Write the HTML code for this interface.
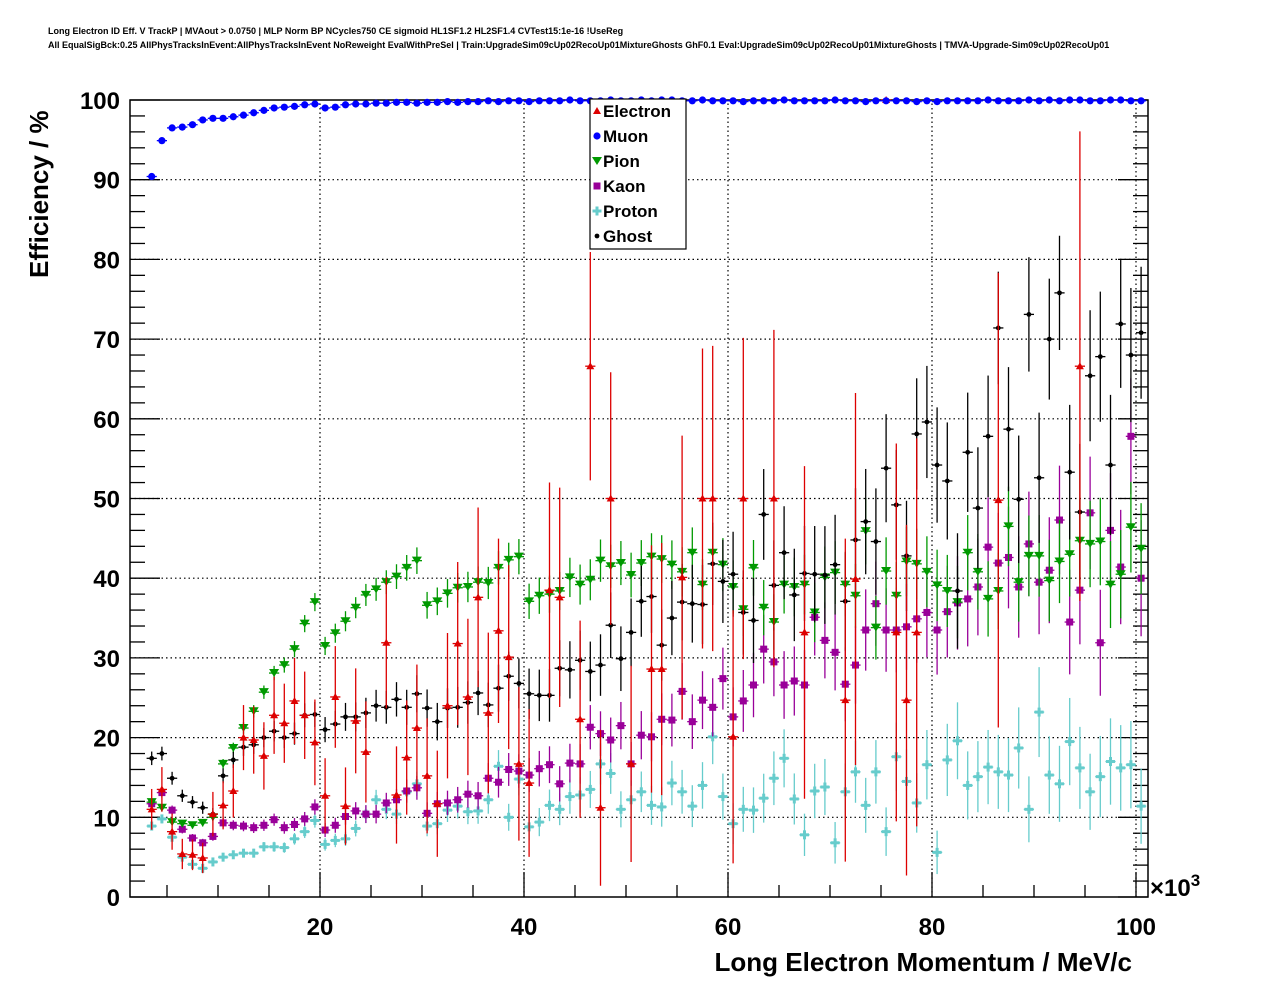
<!DOCTYPE html>
<html><head><meta charset="utf-8">
<style>
html,body{margin:0;padding:0;background:#fff;}
svg{display:block;font-family:"Liberation Sans",Arial,sans-serif;}
</style></head>
<body>
<svg id="chart" width="1276" height="996" viewBox="0 0 1276 996" xmlns="http://www.w3.org/2000/svg">
<rect width="1276" height="996" fill="#fff"/>
<text x="48" y="34" font-size="9" font-weight="bold">Long Electron ID Eff. V TrackP | MVAout &gt; 0.0750 | MLP Norm BP NCycles750 CE sigmoid HL1SF1.2 HL2SF1.4 CVTest15:1e-16 !UseReg</text>
<text x="48" y="48" font-size="9" font-weight="bold">All EqualSigBck:0.25 AllPhysTracksInEvent:AllPhysTracksInEvent NoReweight EvalWithPreSel | Train:UpgradeSim09cUp02RecoUp01MixtureGhosts GhF0.1 Eval:UpgradeSim09cUp02RecoUp01MixtureGhosts | TMVA-Upgrade-Sim09cUp02RecoUp01</text>
<g id="grid"></g>
<g id="axes"></g>
<g id="marks"></g>
<text x="1132" y="971" font-size="26" font-weight="bold" text-anchor="end">Long Electron Momentum / MeV/c</text>
<text transform="translate(48,278) rotate(-90)" font-size="26" font-weight="bold">Efficiency / %</text>
<text x="1150" y="896" font-size="24" font-weight="bold">×10<tspan dy="-10" font-size="17">3</tspan></text>
<g id="legend"></g>
</svg>
<script>
const xTicks = [20, 40, 60, 80, 100];
const yTicks = [0, 10, 20, 30, 40, 50, 60, 70, 80, 90, 100];
const binCenters = [];
for (let i = 0; i < 98; i++) binCenters.push(3.5 + i);
const muon = [90.4,94.9,96.5,96.6,96.9,97.5,97.7,97.7,97.9,98.1,98.4,98.7,99.0,99.1,99.2,99.4,99.5,99.0,99.1,99.4,99.5,99.5,99.6,99.6,99.7,99.7,
99.6,99.7,99.7,99.8,99.7,99.8,99.8,99.9,99.8,99.9,99.9,99.8,99.9,99.9,99.9,100,99.9,99.9,99.9,100,99.9,99.9,100,99.9,100,100,99.9,99.9,100,99.9,
99.9,99.9,99.8,99.9,99.9,99.9,100,99.9,99.9,99.9,99.9,100,99.9,99.9,99.8,99.9,99.9,99.9,99.9,99.8,99.9,99.8,99.9,99.9,99.9,99.9,100,99.9,99.9,99.9,
100,99.9,100,99.9,100,100,99.9,99.9,100,100,99.9,99.9];
const electron = [11.0,13.5,8.2,5.4,5.3,4.9,10.4,11.5,13.3,20.0,19.7,17.7,22.8,21.8,24.6,22.8,19.4,12.7,25.1,11.4,22.1,18.2,null,31.9,12.8,17.5,21.2,15.2,11.7,24.0,31.8,25.1,
37.6,23.1,33.4,30.1,16.7,14.3,null,38.5,37.6,null,22.3,66.6,11.2,50.0,null,16.7,null,28.6,28.6,null,40.1,null,50.0,50.0,null,20.1,50.0,null,null,50.0,null,null,
33.2,null,null,null,24.7,39.9,null,null,100,33.2,24.7,33.2,null,null,null,null,null,null,null,49.8,null,null,null,null,null,null,null,66.6,null,null,null,null,null,null];
const pion = [11.9,11.2,9.4,9.2,9.0,9.3,10.0,16.7,18.7,21.2,23.3,25.7,28.1,29.1,31.1,34.3,37.0,31.5,33.1,34.6,36.3,37.9,38.6,39.5,40.2,41.3,42.2,36.6,37.1,38.1,38.8,38.9,
39.5,39.4,41.3,42.3,42.7,37.1,37.8,38.0,38.4,40.1,39.2,39.8,42.2,41.5,41.9,40.4,41.9,42.7,42.4,41.7,40.8,43.2,39.2,43.2,41.7,38.9,36.1,41.3,36.3,34.5,39.2,38.9,
39.2,35.7,40.1,40.7,39.2,37.8,45.9,33.8,40.9,37.8,42.1,41.8,40.8,39.1,38.4,37.0,43.2,40.8,37.4,38.4,46.5,39.5,42.8,42.8,39.7,42.1,43.0,44.7,44.3,44.6,39.2,40.5,46.4,43.7];
const kaon = [11.7,13.1,10.9,8.5,7.4,6.8,7.6,9.3,9.0,8.9,8.7,9.0,9.7,8.7,9.1,9.8,11.3,8.4,9.0,10.1,10.8,10.4,10.4,11.8,12.2,13.3,13.7,10.5,11.7,11.8,12.2,12.9,
12.7,14.9,14.4,16.0,15.8,15.3,16.1,16.6,14.2,16.8,16.7,21.3,20.5,19.7,21.5,16.7,20.3,20.1,22.3,22.2,25.8,22.0,24.7,23.8,27.4,22.6,24.6,26.6,31.1,29.5,26.6,27.1,
26.6,35.1,32.2,30.7,26.7,29.1,33.5,36.8,33.5,33.5,33.9,34.9,35.7,33.5,35.8,36.9,37.4,38.9,43.9,41.9,42.6,38.9,44.3,39.5,41.0,47.3,34.5,38.5,48.2,31.9,46.0,41.4,57.8,40.0];
const proton = [8.9,9.8,7.5,5.0,4.1,3.6,4.4,5.0,5.3,5.5,5.5,6.3,6.3,6.2,7.3,8.2,9.6,6.6,7.1,7.3,8.6,10.4,12.2,11.0,10.4,13.2,14.2,8.9,9.2,10.9,11.4,10.7,
10.8,12.2,16.4,10.0,14.8,8.8,9.4,11.5,11.0,12.6,12.8,13.5,16.7,15.5,11.0,12.2,13.2,11.5,11.3,14.3,13.2,11.4,14.0,20.1,12.6,9.2,11.0,10.9,12.4,14.9,17.4,12.3,
7.8,13.3,13.8,6.8,13.2,15.7,11.5,15.7,8.2,17.6,14.5,11.8,16.6,5.6,17.2,19.6,14.0,15.1,16.3,15.7,15.3,18.7,11.0,23.2,15.3,14.2,19.5,16.2,13.2,15.1,17.0,16.2,16.6,11.4];
const ghost = [17.4,18.0,14.9,12.7,11.9,11.2,10.4,15.2,17.2,18.8,19.1,20.0,20.8,20.0,20.5,22.8,22.9,21.0,21.7,22.6,22.6,23.1,24.0,23.8,24.8,23.8,25.5,23.7,22.0,23.7,23.8,24.4,
25.6,24.1,26.2,27.7,26.8,25.5,25.3,25.3,28.7,28.5,29.7,28.3,29.1,34.1,29.9,33.2,37.1,37.7,31.6,35.0,37.0,36.8,36.7,41.8,39.6,40.5,35.7,34.7,48.0,39.1,43.2,37.9,
40.6,40.5,40.4,41.7,37.1,44.8,47.1,44.6,53.8,49.2,42.8,58.1,59.6,54.2,52.2,38.4,55.8,48.8,57.8,71.4,58.7,49.9,73.1,52.6,70.0,75.8,53.3,48.3,65.4,67.8,54.2,71.9,68.0,70.8];
const legendLabels = ["Electron","Muon","Pion","Kaon","Proton","Ghost"];

const NS = "http://www.w3.org/2000/svg";
const X0 = 130, X1 = 1148, Y0 = 897, Y1 = 100;
const xMin = 20 - 190/10.2, xMax = 20 + (X1-320)/10.2;
function sx(v){ return X0 + (v - xMin) / (xMax - xMin) * (X1 - X0); }
function sy(v){ return Y0 - v / 100 * (Y0 - Y1); }
function el(tag, attrs, parent){ const e = document.createElementNS(NS, tag); for (const k in attrs) e.setAttribute(k, attrs[k]); parent.appendChild(e); return e; }

const grid = document.getElementById('grid'), axes = document.getElementById('axes'), marks = document.getElementById('marks');
xTicks.forEach(t => { const g = el('line', {x1:sx(t), x2:sx(t), y1:Y0, y2:Y1, stroke:'#000', 'stroke-width':1.2, 'stroke-dasharray':'1.5,3'}, grid);
  
   });
yTicks.forEach(t => { if (t===0||t===100) return; const g = el('line', {x1:X0, x2:X1, y1:sy(t), y2:sy(t), stroke:'#000', 'stroke-width':1.2, 'stroke-dasharray':'1.5,3'}, grid);
  
   });

const frame = el('rect', {x:X0, y:Y1, width:X1-X0, height:Y0-Y1, fill:'none', stroke:'#000', 'stroke-width':1.5}, axes);


for (let v = 0; v <= 100; v += 2) {
  const major = v % 10 === 0, L = major ? 30 : 15;
  el('line', {x1:X0, x2:X0+L, y1:sy(v), y2:sy(v), stroke:'#000', 'stroke-width':1.3}, axes);
  el('line', {x1:X1, x2:X1-L, y1:sy(v), y2:sy(v), stroke:'#000', 'stroke-width':1.3}, axes);
}
for (let v = 5; v <= 100; v += 5) {
  const major = v % 20 === 0, L = major ? 25 : 12;
  el('line', {x1:sx(v), x2:sx(v), y1:Y0, y2:Y0-L, stroke:'#000', 'stroke-width':1.3}, axes);
}
yTicks.forEach(t => { const tx = el('text', {x:120, y:sy(t)+9, 'font-size':24, 'font-weight':'bold', 'text-anchor':'end'}, axes); tx.textContent = t;
  
   });
xTicks.forEach(t => { const tx = el('text', {x:sx(t), y:935, 'font-size':24, 'font-weight':'bold', 'text-anchor':'middle'}, axes); tx.textContent = t;
  
   });

function marker(kind, color, cx, cy, parent) {
  if (kind === 'tri') el('polygon', {points:`${cx},${cy-4} ${cx-4},${cy+3} ${cx+4},${cy+3}`, fill:color}, parent);
  else if (kind === 'tridown') el('polygon', {points:`${cx},${cy+4} ${cx-5},${cy-4} ${cx+5},${cy-4}`, fill:color}, parent);
  else if (kind === 'circle') el('circle', {cx:cx, cy:cy, r:3.6, fill:color}, parent);
  else if (kind === 'dot') el('circle', {cx:cx, cy:cy, r:2.4, fill:color}, parent);
  else if (kind === 'square') el('rect', {x:cx-3.5, y:cy-3.5, width:7, height:7, fill:color}, parent);
  else if (kind === 'cross') { el('rect', {x:cx-4.5, y:cy-1.5, width:9, height:3, fill:color}, parent); el('rect', {x:cx-1.5, y:cy-4.5, width:3, height:9, fill:color}, parent); }
}
function drawSeries(name, vals, color, kind, nBase) {
  const g = el('g', {}, marks);
  
  
  vals.forEach((v, i) => {
    if (v === null) return;
    const c = binCenters[i], px = sx(c), py = sy(v);
    const n = nBase / (1 + Math.pow(i / 12, 2));
    const err = Math.sqrt(Math.max(v * (100 - v), 0) / n);
    const hi = Math.min(v + err, 100), lo = Math.max(v - err, 0);
    el('line', {x1:px, x2:px, y1:sy(hi), y2:sy(lo), stroke:color, 'stroke-width':1.3}, g);
    el('line', {x1:sx(c-0.5), x2:sx(c+0.5), y1:py, y2:py, stroke:color, 'stroke-width':1.3}, g);
    const m = el('g', {}, g);
    
    
    marker(kind, color, px, py, m);
  });
}
drawSeries('proton', proton, '#66cccc', 'cross', 3000);
drawSeries('kaon', kaon, '#990099', 'square', 3000);
drawSeries('pion', pion, '#009900', 'tridown', 5000);
drawSeries('ghost', ghost, '#000000', 'dot', 2000);
drawSeries('electron', electron, '#dd0000', 'tri', 150);
drawSeries('muon', muon, '#0000ff', 'circle', 200000);

const leg = document.getElementById('legend');
el('rect', {x:590, y:99, width:96, height:150, fill:'#fff', stroke:'#000', 'stroke-width':1.2}, leg);
const legColors = ['#dd0000','#0000ff','#009900','#990099','#66cccc','#000000'];
const legKinds = ['tri','circle','tridown','square','cross','dot'];
legendLabels.forEach((lab, i) => {
  const y = 111 + i * 25;
  const g = el('g', {}, leg);
  
  
  marker(legKinds[i], legColors[i], 597, y, g);
  const t = el('text', {x:603, y:y+6, 'font-size':17, 'font-weight':'bold'}, g);
  t.textContent = lab;
});
</script>
</body></html>
